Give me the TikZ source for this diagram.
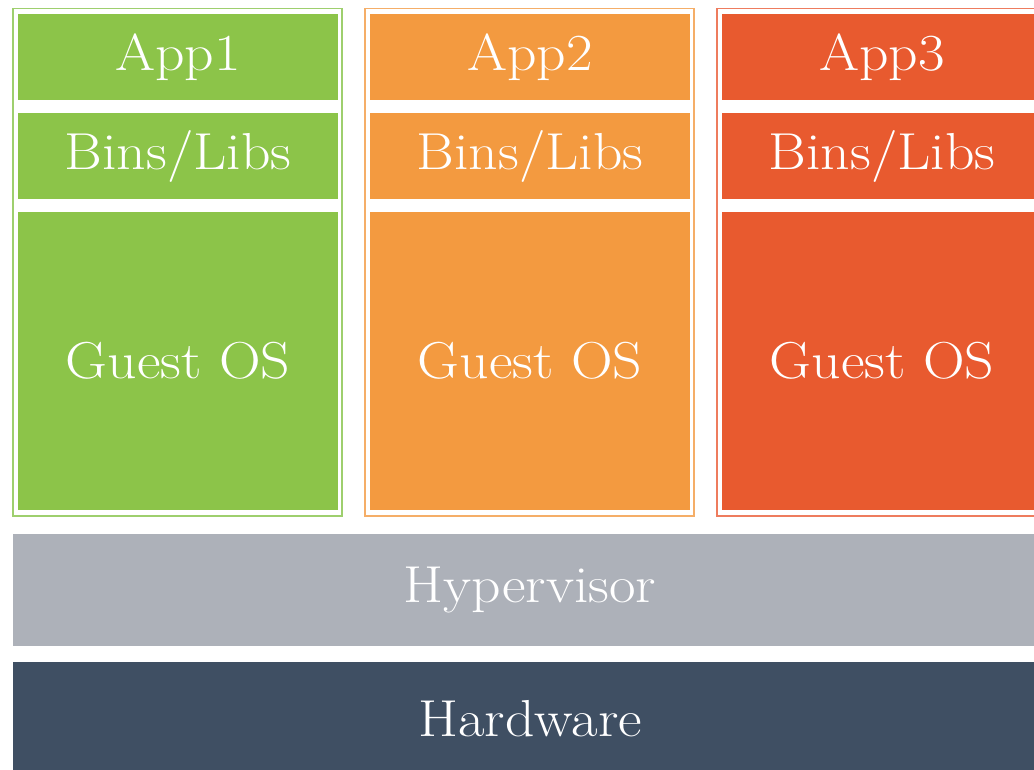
\documentclass[tikz,border=0pt]{standalone}
\usepackage{fontspec}
\newfontfamily\widefont{Latin Modern Roman}[FakeStretch=1.11]
\begin{document}
\begin{tikzpicture}[x=1pt,y=-1pt,
  layer/.style={rectangle, inner sep=0pt, outer sep=0pt, text=white,
    font=\widefont\fontsize{52}{60}\selectfont, anchor=north west},
  frame/.style={line width=1.3pt}]
\definecolor{cgreen}{HTML}{8CC449}
\definecolor{corange}{HTML}{F39A40}
\definecolor{cred}{HTML}{E85A2F}
\definecolor{bgreen}{HTML}{9ECF6E}
\definecolor{borange}{HTML}{F5AE68}
\definecolor{bred}{HTML}{EE7C5E}
\definecolor{cgray}{HTML}{ADB1B9}
\definecolor{cdark}{HTML}{3F4F63}
\useasboundingbox (0,0) rectangle (1034,769);
\fill[white] (0,0) rectangle (1034,769);
% frames
\draw[frame, bgreen] (13,8.5) rectangle (342,516);
\draw[frame, borange] (365,8.5) rectangle (694,516);
\draw[frame, bred] (717,8.5) rectangle (1046,516);
% column 1
\node[layer, fill=cgreen, minimum width=320pt, minimum height=85.5pt] (app1) at (18,14) {App1};
\node[layer, fill=cgreen, minimum width=320pt, minimum height=86pt] (bins1) at (18,113) {Bins/Libs};
\node[layer, fill=cgreen, minimum width=320pt, minimum height=298pt] (os1) at (18,212) {Guest OS};
% column 2
\node[layer, fill=corange, minimum width=320pt, minimum height=85.5pt] (app2) at (370,14) {App2};
\node[layer, fill=corange, minimum width=320pt, minimum height=86pt] (bins2) at (370,113) {Bins/Libs};
\node[layer, fill=corange, minimum width=320pt, minimum height=298pt] (os2) at (370,212) {Guest OS};
% column 3
\node[layer, fill=cred, minimum width=320pt, minimum height=85.5pt] (app3) at (722,14) {App3};
\node[layer, fill=cred, minimum width=320pt, minimum height=86pt] (bins3) at (722,113) {Bins/Libs};
\node[layer, fill=cred, minimum width=320pt, minimum height=298pt] (os3) at (722,212) {Guest OS};
% base layers
\node[layer, fill=cgray, minimum width=1034pt, minimum height=112pt] (hyp) at (13,534) {Hypervisor};
\node[layer, fill=cdark, minimum width=1034pt, minimum height=114pt] (hw) at (13,662) {Hardware};
\end{tikzpicture}
\end{document}
